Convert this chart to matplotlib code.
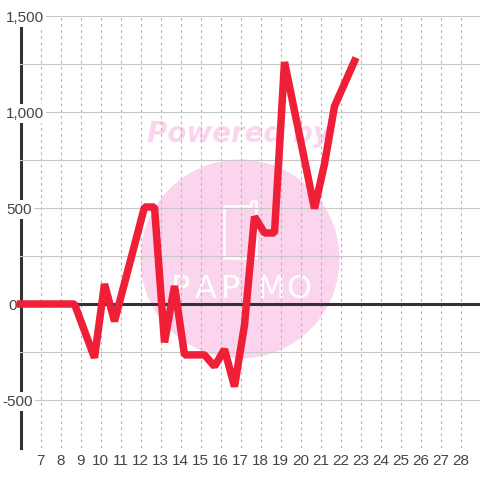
import matplotlib
matplotlib.use("Agg")
import matplotlib.pyplot as plt
from matplotlib.patches import Circle, Polygon
from matplotlib.transforms import ScaledTranslation

# x is the day of the month, y the running total
days = [6.0, 6.7, 7.2, 7.7, 8.2, 8.7, 9.7, 10.2, 10.7, 12.2, 12.7, 13.2, 13.7, 14.2, 15.2,
        15.7, 16.2, 16.7, 17.2, 17.7, 18.2, 18.7, 19.2, 20.7, 21.2, 21.7, 22.7]
values = [0, 0, 0, 0, 0, 0, -280, 104, -90, 505, 505, -200, 94, -265, -265,
          -325, -236, -430, -110, 455, 370, 370, 1260, 497, 730, 1030, 1265]

x_ticks = list(range(7, 29))
y_major = [-500, 0, 500, 1000, 1500]
y_labels = ["-500", "0", "500", "1,000", "1,500"]
y_grid = [-750, -250, 250, 750, 1250]
logo_letters = ["P", "A", "P", "M", "O"]

RED = "#ef1f38"
DARK = "#333333"
GRID = "#c8c8c8"
PINK = "#fbd5ee"

plt.rcParams["font.family"] = ["Liberation Sans", "DejaVu Sans"]

fig = plt.figure(figsize=(4.8, 4.8), dpi=100)
ax = fig.add_axes([20 / 480, 32 / 480, 460 / 480, 432 / 480])
ax.patch.set_visible(False)
ax.set_xlim(6 - 0.5 / 20, 6 + 459.5 / 20)
ax.set_ylim(-750, 1500)
for s in ax.spines.values():
    s.set_visible(False)
ax.set_axisbelow(True)


def px(x, y):
    return x / 100, (480 - y) / 100


# watermark behind the axes
fig.add_artist(Circle(px(240, 259), 0.995, transform=fig.dpi_scale_trans,
                      fc=PINK, ec="none", zorder=-3))
fig.text(239 / 480, 1 - 134 / 480, "Powered by", color=PINK, fontsize=20, fontweight="bold",
         fontstyle="italic", family="DejaVu Sans", ha="center", va="center", zorder=-3)
icon = [px(224, 206), px(251, 206), px(251, 201), px(256, 201), px(256, 258), px(224, 258)]
fig.add_artist(Polygon(icon, closed=True, transform=fig.dpi_scale_trans, fc="none", ec="white",
                       lw=1.8, joinstyle="round", zorder=-2))
for letter, cx in zip(logo_letters, [181, 206, 231, 272, 299]):
    fig.text(cx / 480, 1 - 290 / 480, letter, color="white", fontsize=23, family="DejaVu Sans",
             ha="center", va="center", zorder=-2)

ax.set_xticks(x_ticks)
ax.set_yticks(y_major)
ax.set_yticks(y_grid, minor=True)
ax.set_yticklabels(y_labels)
ax.grid(True, axis="x", color="#b4b4b4", lw=0.8, ls=(0, (2.5, 3)))
ax.grid(True, axis="y", which="both", color=GRID, lw=0.8)
ax.tick_params(axis="both", which="both", length=0)
ax.tick_params(axis="x", labelsize=11, labelcolor="#444444", pad=4)
ax.tick_params(axis="y", labelsize=11, labelcolor="#444444", pad=10)
# the labels sit over the axis line on a white box, each with its own left edge
for lab, shift in zip(ax.get_yticklabels(), [-4, 2, 0, 0, 0]):
    lab.set_horizontalalignment("left")
    lab.set_bbox(dict(fc="white", ec="none", pad=1.5))
    lab.set_transform(lab.get_transform() + ScaledTranslation(shift / 100, 0, fig.dpi_scale_trans))

ax.axvline(6, color=DARK, lw=2.2, zorder=0.2, clip_on=False)
ax.axhline(0, color=DARK, lw=2.2, zorder=0.6)
ax.plot(days, values, color=RED, lw=5.4, zorder=3, solid_joinstyle="bevel",
        solid_capstyle="projecting", clip_on=False)

fig.savefig("out.png", dpi=100)
